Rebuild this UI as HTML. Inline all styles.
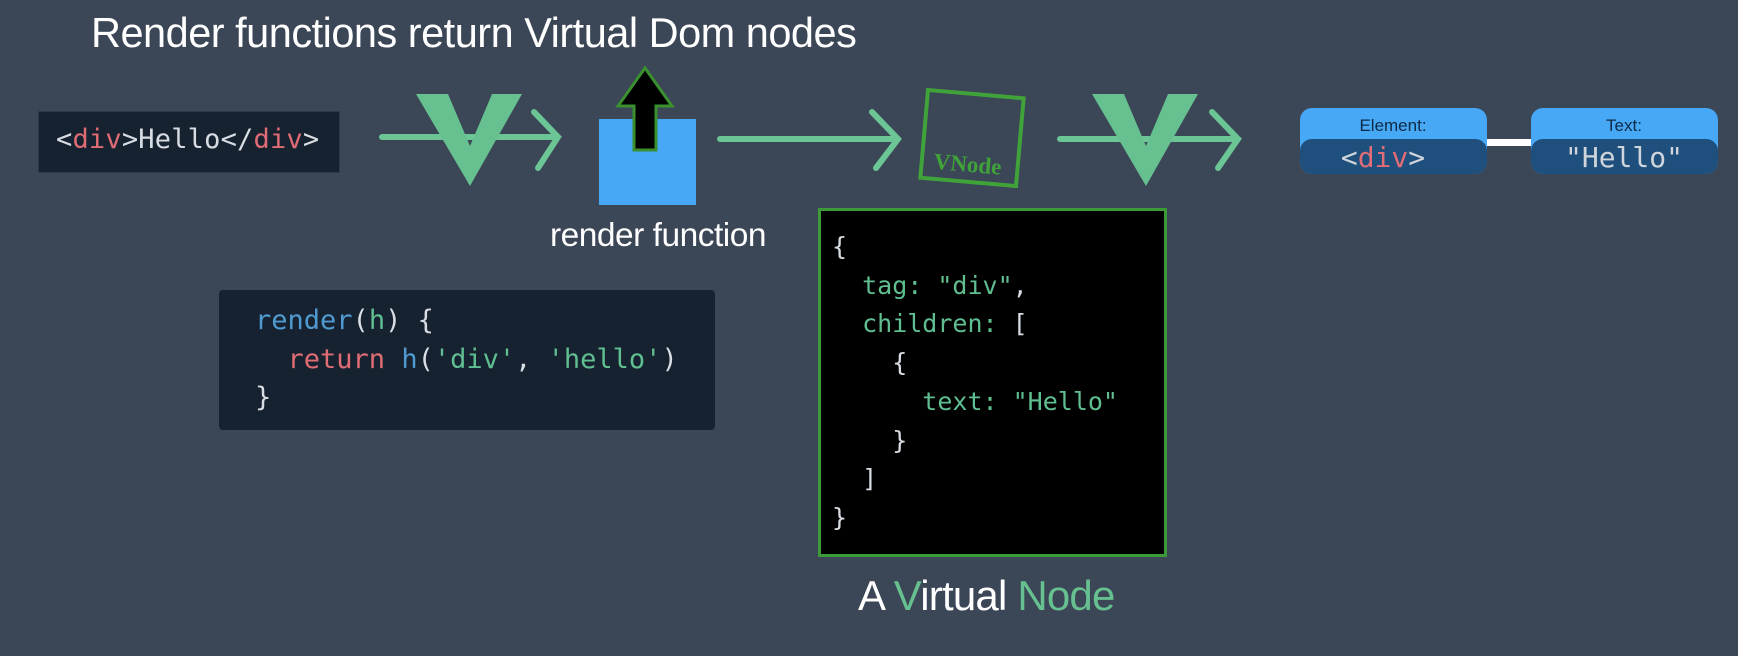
<!DOCTYPE html>
<html><head><meta charset="utf-8"><style>
body{margin:0;width:1738px;height:656px;background:#3b4656;position:relative;overflow:hidden;font-family:"Liberation Sans",sans-serif}
.a{position:absolute;white-space:pre}
.m{font-family:"DejaVu Sans Mono","Liberation Mono",monospace}
.r{color:#e06c75}.g{color:#5fbf91}.w{color:#d8dde3}.b{color:#4f9bd1}
</style></head><body>
<div class="a" style="left:91px;top:9px;font-size:41.5px;color:#fff;letter-spacing:-0.5px">Render functions return Virtual Dom nodes</div>

<div class="a" style="left:38px;top:111px;width:300px;height:60px;background:#172230;border:1px solid #2a3b4c"></div>
<div class="a m w" style="left:56px;top:124px;font-size:27px;letter-spacing:0.2px">&lt;<span class="r">div</span>&gt;Hello&lt;/<span class="r">div</span>&gt;</div>

<svg class="a" style="left:0;top:0" width="1738" height="656">
 <g stroke="#6cc595" stroke-width="6" fill="none" stroke-linecap="round">
  <line x1="382" y1="137" x2="556" y2="137"/><polyline points="534,112 558,137 538,168"/>
  <line x1="720" y1="139" x2="896" y2="139"/><polyline points="872,112 898,139 876,168"/>
  <line x1="1060" y1="139" x2="1236" y2="139"/><polyline points="1212,112 1238,139 1218,168"/>
 </g>
 <polygon points="416,94 448,94 470,146 492,94 522,94 470,186" fill="#66c08f"/>
 <polygon points="1092,94 1124,94 1146,146 1168,94 1198,94 1146,186" fill="#66c08f"/>
 <rect x="599" y="119" width="97" height="86" fill="#47a8f5"/>
 <polygon points="634,150 634,106 618,106 645,68 672,106 656,106 656,150" fill="#000" stroke="#3a8f2e" stroke-width="3"/>
 <g transform="rotate(5 972 138)">
  <rect x="924" y="94" width="96" height="88" fill="none" stroke="#3fa33a" stroke-width="4"/>
  <text x="970" y="172" font-family="Liberation Serif,serif" font-size="23" font-weight="bold" fill="#3fa33a" text-anchor="middle">VNode</text>
 </g>
 <rect x="1300" y="108" width="187" height="66" rx="12" fill="#47a8f5"/>
 <rect x="1300" y="139" width="187" height="35" rx="12" fill="#1f4f7d"/>
 <rect x="1531" y="108" width="187" height="66" rx="12" fill="#47a8f5"/>
 <rect x="1531" y="139" width="187" height="35" rx="12" fill="#1f4f7d"/>
 <rect x="1487" y="139" width="44" height="7" fill="#fff"/>
 <text x="1393" y="131" font-family="Liberation Sans,sans-serif" font-size="17" fill="#0e2a48" text-anchor="middle">Element:</text>
 <text x="1624" y="131" font-family="Liberation Sans,sans-serif" font-size="17" fill="#0e2a48" text-anchor="middle">Text:</text>
 <text x="1383" y="167" font-family="DejaVu Sans Mono,monospace" font-size="28" fill="#cfd5db" text-anchor="middle">&lt;<tspan fill="#e06c75">div</tspan>&gt;</text>
 <text x="1624" y="167" font-family="DejaVu Sans Mono,monospace" font-size="28" fill="#cfd5db" text-anchor="middle">"Hello"</text>
</svg>

<div class="a" style="left:550px;top:217px;font-size:33.5px;color:#fff;letter-spacing:-0.5px">render function</div>

<div class="a" style="left:219px;top:290px;width:496px;height:140px;background:#172230;border-radius:4px"></div>
<div class="a m" style="left:255px;top:302px;font-size:27px;line-height:38.5px"><span class="b">render</span><span class="w">(</span><span class="g">h</span><span class="w">) {</span>
<span class="r">  return</span> <span class="b">h</span><span class="w">(</span><span class="g">'div'</span><span class="w">, </span><span class="g">'hello'</span><span class="w">)</span>
<span class="w">}</span></div>

<div class="a" style="left:818px;top:208px;width:343px;height:343px;background:#000;border:3px solid #3d9a38"></div>
<div class="a m" style="left:832px;top:228px;font-size:25px;line-height:38.7px"><span class="w">{</span>
<span class="g">  tag: "div"</span><span class="w">,</span>
<span class="g">  children: </span><span class="w">[</span>
<span class="w">    {</span>
<span class="g">      text: "Hello"</span>
<span class="w">    }</span>
<span class="w">  ]</span>
<span class="w">}</span></div>

<div class="a" style="left:858px;top:572px;font-size:42px;color:#fff;letter-spacing:-0.8px">A <span style="color:#66c08f">V</span>irtual <span style="color:#66c08f">Node</span></div>
</body></html>
